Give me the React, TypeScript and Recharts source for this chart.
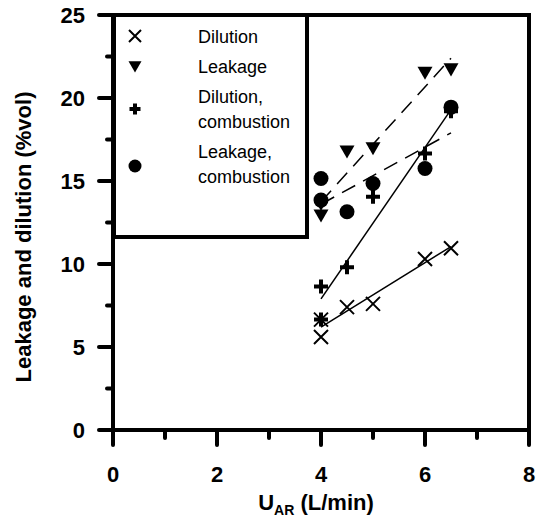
import { ComposedChart, Scatter, XAxis, YAxis, ReferenceLine } from 'recharts';

// axis ticks (odd x / half-step y are unlabelled minor ticks)
const xTicks = [0, 1, 2, 3, 4, 5, 6, 7, 8];
const yTicks = [0, 2.5, 5, 7.5, 10, 12.5, 15, 17.5, 20, 22.5, 25];

// measured points, U_AR (L/min) vs %vol
const dilution = [
  { x: 4, y: 5.6 },
  { x: 4, y: 6.65 },
  { x: 4.5, y: 7.4 },
  { x: 5, y: 7.6 },
  { x: 6, y: 10.3 },
  { x: 6.5, y: 10.95 },
];
const leakage = [
  { x: 4, y: 12.95 },
  { x: 4, y: 13.65 },
  { x: 4.5, y: 16.8 },
  { x: 5, y: 17.0 },
  { x: 6, y: 21.55 },
  { x: 6.5, y: 21.75 },
];
const dilutionComb = [
  { x: 4, y: 6.65 },
  { x: 4, y: 8.65 },
  { x: 4.5, y: 9.8 },
  { x: 5, y: 14.05 },
  { x: 6, y: 16.65 },
  { x: 6.5, y: 19.2 },
];
const leakageComb = [
  { x: 4, y: 15.15 },
  { x: 4, y: 13.85 },
  { x: 4.5, y: 13.15 },
  { x: 5, y: 14.85 },
  { x: 6, y: 15.75 },
  { x: 6.5, y: 19.45 },
];

// linear fits, end points only
const dilutionFit = [{ x: 4, y: 6.2 }, { x: 6.5, y: 11.05 }];
const dilutionCombFit = [{ x: 4, y: 7.9 }, { x: 6.5, y: 19.3 }];
const leakageFit = [{ x: 4, y: 13.75 }, { x: 6.5, y: 22.4 }];
const leakageCombFit = [{ x: 4, y: 13.6 }, { x: 6.5, y: 17.9 }];

const FONT = 'Arial, "Liberation Sans", sans-serif';

const Cross = ({ cx, cy, s = 7 }: any) => (
  <path
    d={`M${cx - s},${cy - s}L${cx + s},${cy + s}M${cx + s},${cy - s}L${cx - s},${cy + s}`}
    stroke="#000"
    strokeWidth={2}
    fill="none"
  />
);

const Triangle = ({ cx, cy, s = 7.5 }: any) => (
  <path d={`M${cx - s},${cy - s * 0.75}L${cx + s},${cy - s * 0.75}L${cx},${cy + s}Z`} fill="#000" />
);

const Plus = ({ cx, cy, s = 7 }: any) => (
  <path d={`M${cx - s},${cy}L${cx + s},${cy}M${cx},${cy - s}L${cx},${cy + s}`} stroke="#000" strokeWidth={4} fill="none" />
);

const Dot = ({ cx, cy, s = 7.5 }: any) => <circle cx={cx} cy={cy} r={s} fill="#000" />;

const NoShape = () => <g />;

const XTick = ({ x, y, payload }: any) => {
  const major = payload.value % 2 === 0;
  return (
    <g>
      <line x1={x} y1={y} x2={x} y2={y + (major ? 15 : 8)} stroke="#000" strokeWidth={4} strokeLinecap="round" />
      {major && (
        <text x={x} y={y + 52} textAnchor="middle" fontFamily={FONT} fontWeight="bold" fontSize={22} fill="#000">
          {payload.value}
        </text>
      )}
    </g>
  );
};

const YTick = ({ x, y, payload }: any) => {
  const major = payload.value % 5 === 0;
  return (
    <g>
      <line x1={x} y1={y} x2={x - (major ? 14 : 6)} y2={y} stroke="#000" strokeWidth={4} strokeLinecap="round" />
      {major && (
        <text x={x - 28} y={y + 8} textAnchor="end" fontFamily={FONT} fontWeight="bold" fontSize={22} fill="#000">
          {payload.value}
        </text>
      )}
    </g>
  );
};

const legendRows = [
  { label: ['Dilution'], Icon: Cross, top: 21, iconY: 11, size: 6 },
  { label: ['Leakage'], Icon: Triangle, top: 51, iconY: 11, size: 6.5 },
  { label: ['Dilution,', 'combustion'], Icon: Plus, top: 81, iconY: 24, size: 5.5 },
  { label: ['Leakage,', 'combustion'], Icon: Dot, top: 136, iconY: 26, size: 6.5 },
];

function LegendBox() {
  return (
    <div
      style={{
        position: 'absolute',
        left: 112,
        top: 13,
        width: 189,
        height: 218,
        border: '4px solid #000',
        background: '#fff',
        fontFamily: FONT,
        fontSize: 18,
        color: '#000',
      }}
    >
      {legendRows.map(({ label, Icon, top, iconY, size }, i) => (
        <div key={i} style={{ position: 'absolute', left: 0, top: top - 13, width: '100%' }}>
          <svg width={40} height={56} style={{ position: 'absolute', left: 3, top: 0 }}>
            <Icon cx={16} cy={iconY} s={size} />
          </svg>
          <div style={{ position: 'absolute', left: 82, top: 0, lineHeight: '25px' }}>
            {label.map((t) => (
              <div key={t}>{t}</div>
            ))}
          </div>
        </div>
      ))}
    </div>
  );
}

export default function App() {
  return (
    <div style={{ position: 'absolute', left: 0, top: 0, width: 539, height: 523 }}>
      <ComposedChart width={539} height={523} margin={{ top: 15, right: 10, bottom: 33, left: 53 }}>
        <XAxis
          type="number"
          dataKey="x"
          domain={[0, 8]}
          ticks={xTicks}
          interval={0}
          tickSize={0}
          tickMargin={0}
          tickLine={false}
          tick={<XTick />}
          axisLine={{ stroke: '#000', strokeWidth: 4, strokeLinecap: 'square' }}
          height={60}
        />
        <YAxis
          type="number"
          dataKey="y"
          domain={[0, 25]}
          ticks={yTicks}
          interval={0}
          tickSize={0}
          tickMargin={0}
          tickLine={false}
          tick={<YTick />}
          axisLine={{ stroke: '#000', strokeWidth: 4, strokeLinecap: 'square' }}
          width={60}
        />
        <ReferenceLine y={25} stroke="#000" strokeWidth={4} strokeLinecap="square" />
        <ReferenceLine x={8} stroke="#000" strokeWidth={4} strokeLinecap="square" />

        <Scatter data={dilutionFit} shape={NoShape} line={{ stroke: '#000', strokeWidth: 1.5 }} isAnimationActive={false} />
        <Scatter data={dilutionCombFit} shape={NoShape} line={{ stroke: '#000', strokeWidth: 1.5 }} isAnimationActive={false} />
        <Scatter
          data={leakageFit}
          shape={NoShape}
          line={{ stroke: '#000', strokeWidth: 1.5, strokeDasharray: '15 9' }}
          isAnimationActive={false}
        />
        <Scatter
          data={leakageCombFit}
          shape={NoShape}
          line={{ stroke: '#000', strokeWidth: 1.5, strokeDasharray: '15 9' }}
          isAnimationActive={false}
        />

        <Scatter data={dilution} shape={(p: any) => <Cross cx={p.cx} cy={p.cy} />} isAnimationActive={false} />
        <Scatter data={leakage} shape={(p: any) => <Triangle cx={p.cx} cy={p.cy} />} isAnimationActive={false} />
        <Scatter data={dilutionComb} shape={(p: any) => <Plus cx={p.cx} cy={p.cy} />} isAnimationActive={false} />
        <Scatter data={leakageComb} shape={(p: any) => <Dot cx={p.cx} cy={p.cy} />} isAnimationActive={false} />

        <text
          transform="translate(23,237) rotate(-90)"
          textAnchor="middle"
          dominantBaseline="central"
          fontFamily={FONT}
          fontWeight="bold"
          fontSize={22}
          fill="#000"
        >
          Leakage and dilution (%vol)
        </text>
        <text x={316} y={510} textAnchor="middle" fontFamily={FONT} fontWeight="bold" fontSize={22} fill="#000">
          U
          <tspan fontSize={14} dy={5}>
            AR
          </tspan>
          <tspan dy={-5}> (L/min)</tspan>
        </text>
      </ComposedChart>
      <LegendBox />
    </div>
  );
}
